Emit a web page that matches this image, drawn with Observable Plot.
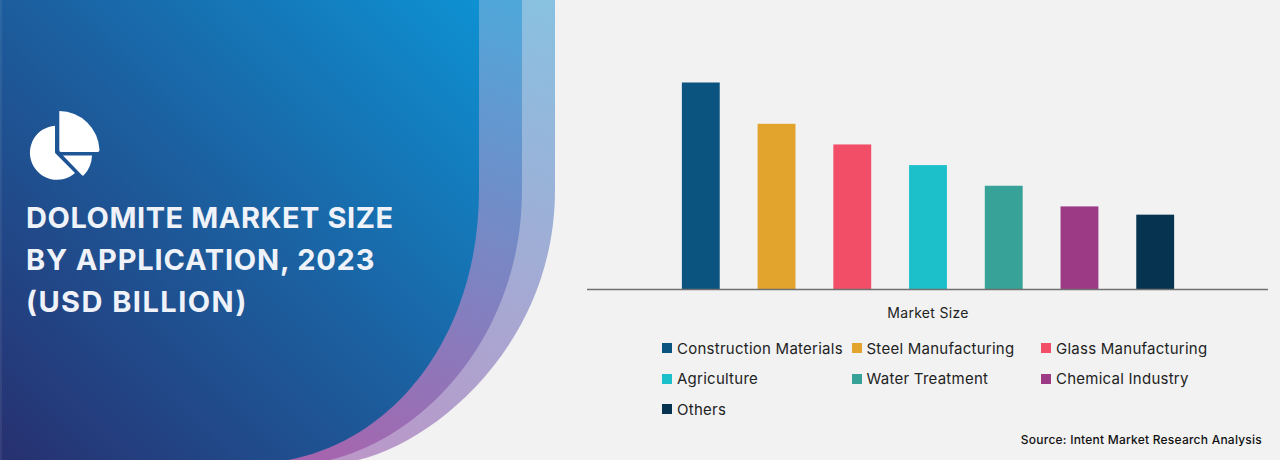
<!DOCTYPE html>
<html>
<head>
<meta charset="utf-8">
<script src="https://cdn.jsdelivr.net/npm/d3@7"></script>
<script src="https://cdn.jsdelivr.net/npm/@observablehq/plot@0.6"></script>
<style>
  html, body { margin: 0; padding: 0; background: #f2f2f2; }
  body { width: 1280px; height: 460px; overflow: hidden; position: relative; font-family: Inter, "Noto Sans", sans-serif; }
  #panel { position: absolute; left: 0; top: 0; width: 555px; height: 460px; }
  #panel svg { display: block; }
  #title { position: absolute; left: 26px; top: 197px; margin: 0; color: #eff3f9; font-size: 29px; font-weight: 700; line-height: 42px; white-space: nowrap; }
  #title span { display: block; }
  #title span:nth-child(1) { letter-spacing: 0.55px; }
  #title span:nth-child(2) { letter-spacing: 0.8px; }
  #title span:nth-child(3) { letter-spacing: 1.45px; }
  #right { position: absolute; left: 555px; top: 0; width: 725px; height: 460px; }
  #chart svg { display: block; }
  #legend { position: absolute; left: 107px; top: 333px; display: grid; grid-template-columns: repeat(3, 189.5px); grid-auto-rows: 30.5px; font-size: 15px; letter-spacing: 0.25px; color: #222; }
  .item { display: flex; align-items: center; white-space: nowrap; }
  .sw { width: 10px; height: 10px; margin-right: 5px; flex: none; }
  #source { position: absolute; right: 18px; top: 432px; font-size: 12px; font-weight: 500; letter-spacing: 0.23px; color: #111; white-space: nowrap; }
</style>
</head>
<body>
<div id="panel">
<svg width="555" height="460" viewBox="0 0 555 460">
  <defs>
    <linearGradient id="gFront" gradientUnits="userSpaceOnUse" x1="0" y1="460" x2="470" y2="0">
      <stop offset="0" stop-color="#273070"/><stop offset="0.5" stop-color="#1c5e9e"/><stop offset="1" stop-color="#0e90d1"/>
    </linearGradient>
    <linearGradient id="gMid" gradientUnits="userSpaceOnUse" x1="330" y1="460" x2="520" y2="0">
      <stop offset="0" stop-color="#a565ae"/><stop offset="1" stop-color="#4ea8da"/>
    </linearGradient>
    <linearGradient id="gBack" gradientUnits="userSpaceOnUse" x1="350" y1="460" x2="555" y2="0">
      <stop offset="0" stop-color="#bb97c8"/><stop offset="1" stop-color="#88c1e1"/>
    </linearGradient>
  </defs>
  <path d="M0,0H555V190C555,340 440,440 358,460H0Z" fill="url(#gBack)"/>
  <path d="M0,0H522V190C522,330 430,435 330,460H0Z" fill="url(#gMid)"/>
  <path d="M0,0H479V190C479,335 395,440 288,460H0Z" fill="url(#gFront)"/>
  <rect x="0" y="0" width="2" height="460" fill="#fff" opacity="0.07"/>
  <g fill="#fff">
    <path d="M59.3,111A40.5,40.5 0 0 1 99.5,150Q99.5,152 97.5,152L61,152Q59.3,152 59.3,150Z"/>
    <path d="M55,125.7A27.1,27.1 0 1 0 75,173L55.6,153.5Q55,153 55,152Z"/>
    <path d="M63,155.5H92A30,30 0 0 1 84,175Q83,176.2 82,175.2Z"/>
  </g>
</svg>
</div>
<h1 id="title"></h1>
<div id="right">
  <div id="chart"></div>
  <div id="legend"></div>
  <div id="source"></div>
</div>
<script>
const titleLines = ["DOLOMITE MARKET SIZE", "BY APPLICATION, 2023", "(USD BILLION)"];
const categories = ["Construction Materials", "Steel Manufacturing", "Glass Manufacturing", "Agriculture", "Water Treatment", "Chemical Industry", "Others"];
const values = [5.0, 4.0, 3.5, 3.0, 2.5, 2.0, 1.8];
const colors = ["#0b5480", "#e2a42d", "#f34e68", "#1cc0ca", "#37a297", "#9c3a85", "#06334f"];
const axisLabel = "Market Size";
const sourceText = "Source: Intent Market Research Analysis";

const titleEl = document.getElementById("title");
titleLines.forEach(line => {
  const s = document.createElement("span");
  s.textContent = line;
  titleEl.appendChild(s);
});
document.getElementById("source").textContent = sourceText;

const rows = categories.map((c, i) => ({category: c, value: values[i]}));
const chart = Plot.plot({
  width: 725, height: 325,
  marginLeft: 32, marginRight: 12, marginTop: 82.5, marginBottom: 36,
  style: {background: "transparent", fontFamily: "Inter, sans-serif", letterSpacing: "0.3px"},
  x: {axis: null, domain: categories, padding: 0.5, round: false, range: [89, 657]},
  y: {axis: null, domain: [0, 5]},
  color: {domain: categories, range: colors},
  marks: [
    Plot.barY(rows, {x: "category", y: "value", fill: "category"}),
    Plot.ruleY([0], {stroke: "#707070", strokeWidth: 1.4}),
    Plot.text([axisLabel], {frameAnchor: "bottom", dy: 28, fontSize: 14, fill: "#222"})
  ]
});
document.getElementById("chart").appendChild(chart);

const legend = document.getElementById("legend");
categories.forEach((c, i) => {
  const item = document.createElement("div");
  item.className = "item";
  const sw = document.createElement("span");
  sw.className = "sw";
  sw.style.background = colors[i];
  const label = document.createElement("span");
  label.textContent = c;
  item.append(sw, label);
  legend.appendChild(item);
});
</script>
</body>
</html>
